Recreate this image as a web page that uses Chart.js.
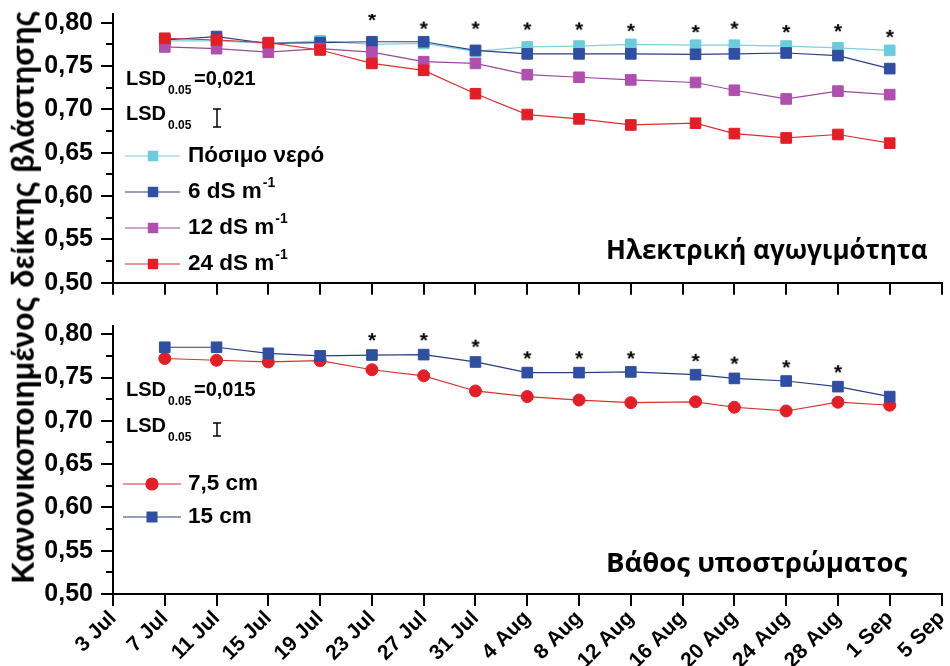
<!DOCTYPE html>
<html>
<head>
<meta charset="utf-8">
<script src="https://cdn.jsdelivr.net/npm/chart.js@4.4.1/dist/chart.umd.min.js"></script>
<style>
  html, body { margin: 0; padding: 0; background: #fff; }
  #wrap { position: relative; width: 950px; height: 666px; overflow: hidden; }
  #topChart { position: absolute; left: 0; top: 0; }
  #bottomChart { position: absolute; left: 0; top: 300px; }
  #ytitle {
    position: absolute; left: 23px; top: 297px;
    transform: translate(-50%, -50%) rotate(-90deg);
    font: bold 30.5px "Liberation Sans", Arial, sans-serif;
    line-height: 1; white-space: nowrap; color: #000;
  }
</style>
</head>
<body>
<div id="wrap">
  <canvas id="topChart" width="950" height="300"></canvas>
  <canvas id="bottomChart" width="950" height="366"></canvas>
  <div id="ytitle">Κανονικοποιημένος δείκτης βλάστησης</div>
</div>
<script>
// ημερομηνίες μετρήσεων (μήνας-ημέρα) και ετικέτες άξονα x
const startDate = '07-03';
const sampleDates = ['07-07', '07-11', '07-15', '07-19', '07-23', '07-27', '07-31', '08-04',
  '08-08', '08-12', '08-17', '08-20', '08-24', '08-28', '09-01'];
const xTickLabels = ['3 Jul', '7 Jul', '11 Jul', '15 Jul', '19 Jul', '23 Jul', '27 Jul', '31 Jul',
  '4 Aug', '8 Aug', '12 Aug', '16 Aug', '20 Aug', '24 Aug', '28 Aug', '1 Sep', '5 Sep'];
const yMajorTicks = [0.50, 0.55, 0.60, 0.65, 0.70, 0.75, 0.80];
const yMinorTicks = [0.525, 0.575, 0.625, 0.675, 0.725, 0.775];

// Ηλεκτρική αγωγιμότητα
const potable = [0.779, 0.779, 0.776, 0.779, 0.775, 0.776, 0.767, 0.772, 0.773, 0.775, 0.774, 0.774, 0.773, 0.771, 0.768];
const ec6 = [0.780, 0.784, 0.776, 0.777, 0.778, 0.778, 0.768, 0.764, 0.764, 0.764, 0.7635, 0.764, 0.765, 0.762, 0.747];
const ec12 = [0.772, 0.770, 0.766, 0.770, 0.766, 0.755, 0.753, 0.740, 0.737, 0.734, 0.731, 0.722, 0.712, 0.721, 0.717];
const ec24 = [0.782, 0.780, 0.777, 0.7685, 0.753, 0.745, 0.718, 0.694, 0.689, 0.682, 0.684, 0.672, 0.667, 0.671, 0.661];
const ecStars = [null, null, null, null, 0.809, 0.799, 0.799, 0.798, 0.798, 0.7965, 0.795, 0.799, 0.795, 0.796, 0.7895];
const ecLsd = 0.021;

// Βάθος υποστρώματος
const depth75 = [0.772, 0.770, 0.768, 0.7695, 0.759, 0.752, 0.7345, 0.728, 0.724, 0.721, 0.722, 0.7157, 0.7114, 0.7215, 0.718];
const depth15 = [0.785, 0.785, 0.778, 0.775, 0.776, 0.7765, 0.768, 0.7557, 0.7557, 0.7565, 0.7533, 0.749, 0.746, 0.7395, 0.728];
const depthStars = [null, null, null, null, 0.799, 0.799, 0.7915, 0.778, 0.778, 0.778, 0.775, 0.772, 0.7677, 0.762, null];
const depthLsd = 0.015;

const FONT = '"Liberation Sans", Arial, sans-serif';

function dayNo(md) {
  const [m, d] = md.split('-').map(Number);
  const [m0, d0] = startDate.split('-').map(Number);
  return (Date.UTC(2001, m - 1, d) - Date.UTC(2001, m0 - 1, d0)) / 86400000;
}
const sampleDays = sampleDates.map(dayNo);

function points(values) {
  return values.map((v, i) => v == null ? null : {x: sampleDays[i], y: v}).filter(p => p);
}

// αστερίσκος ως εικόνα σημείου
function starImage() {
  const c = document.createElement('canvas');
  c.width = 16; c.height = 16;
  const g = c.getContext('2d');
  g.font = 'bold 21px ' + FONT;
  g.textAlign = 'center';
  g.fillStyle = '#000';
  g.fillText('*', 8, 8 + 0.56 * 21);
  return c;
}
const star = starImage();

function series(label, values, fill, line, style, radius, order) {
  return {
    label: label, data: points(values), borderColor: line, borderWidth: 1.2,
    pointStyle: style, pointRadius: radius, pointBackgroundColor: fill,
    pointBorderColor: fill, pointBorderWidth: 1, order: order, tension: 0
  };
}
function starSet(values) {
  return {label: '*', data: points(values), showLine: false, pointStyle: star, order: -1};
}

function decoPlugin(cfg) {
  return {
    id: 'deco',
    afterDraw(chart) {
      const ctx = chart.ctx, ys = chart.scales.y, area = chart.chartArea;
      ctx.save();
      ctx.strokeStyle = '#000';
      ctx.fillStyle = '#000';
      // μικρές υποδιαιρέσεις
      ctx.lineWidth = 2;
      yMinorTicks.forEach(v => {
        const py = Math.round(ys.getPixelForValue(v));
        ctx.beginPath(); ctx.moveTo(area.left - 7, py); ctx.lineTo(area.left, py); ctx.stroke();
      });
      // LSD
      ctx.textBaseline = 'alphabetic';
      ctx.textAlign = 'left';
      cfg.lsdLines.forEach((base, k) => {
        ctx.font = 'bold 20px ' + FONT;
        ctx.fillText('LSD', 126, base);
        ctx.font = 'bold 12px ' + FONT;
        ctx.fillText('0.05', 168, base + 9);
        if (k === 0) {
          ctx.font = 'bold 20px ' + FONT;
          ctx.fillText('=' + cfg.lsd.toFixed(3).replace('.', ','), 194, base);
        }
      });
      const yc = 0.69;
      const t = ys.getPixelForValue(yc + cfg.lsd / 2), b = ys.getPixelForValue(yc - cfg.lsd / 2);
      ctx.lineWidth = 1.5;
      ctx.beginPath();
      ctx.moveTo(217, t); ctx.lineTo(217, b);
      ctx.moveTo(213, t); ctx.lineTo(221, t);
      ctx.moveTo(213, b); ctx.lineTo(221, b);
      ctx.stroke();
      // υπόμνημα
      cfg.legend.forEach(row => {
        const ds = chart.data.datasets[row.ds];
        ctx.strokeStyle = ds.borderColor;
        ctx.lineWidth = 1.2;
        ctx.beginPath(); ctx.moveTo(cfg.legX0, row.y); ctx.lineTo(cfg.legX1, row.y); ctx.stroke();
        ctx.fillStyle = ds.pointBackgroundColor;
        ctx.strokeStyle = ds.pointBorderColor;
        Chart.helpers.drawPoint(ctx, {pointStyle: ds.pointStyle, radius: row.r, borderWidth: 1}, cfg.legMark, row.y);
        ctx.fillStyle = '#000';
        ctx.textBaseline = 'middle';
        ctx.font = 'bold 22.5px ' + FONT;
        ctx.fillText(row.text, 188, row.y);
        if (row.sup) {
          const w = ctx.measureText(row.text).width;
          ctx.font = 'bold 14px ' + FONT;
          ctx.fillText(row.sup, 188 + w + 1, row.y - 9);
        }
      });
      // τίτλος πλαισίου
      ctx.textBaseline = 'alphabetic';
      ctx.font = 'bold ' + cfg.titleSize + 'px "Open Sans", "Noto Sans", sans-serif';
      ctx.fillText(cfg.title, 606, cfg.titleBase);
      ctx.restore();
    }
  };
}

function makeChart(id, datasets, padTop, xHeight, showLabels, cfg) {
  return new Chart(document.getElementById(id), {
    type: 'line',
    data: {datasets: datasets},
    options: {
      responsive: false,
      animation: false,
      layout: {padding: {top: padTop, right: 7, left: 0, bottom: 0}},
      plugins: {legend: {display: false}, tooltip: {enabled: false}},
      scales: {
        x: {
          type: 'linear', min: 0, max: 64,
          afterBuildTicks: s => { s.ticks = xTickLabels.map((_, i) => ({value: i * 4})); },
          afterFit: s => { s.height = xHeight; s.paddingLeft = 0; s.paddingRight = 0; },
          grid: {display: true, drawOnChartArea: false, drawTicks: true, tickLength: 12, color: '#000', lineWidth: 2},
          border: {display: true, color: '#000', width: 2},
          ticks: {
            autoSkip: false, minRotation: 45, maxRotation: 45, padding: 0, color: '#000',
            font: {family: FONT, size: 21, weight: 'bold'},
            callback: (v, i) => showLabels ? xTickLabels[i] : ''
          }
        },
        y: {
          min: 0.5, max: 0.81,
          afterBuildTicks: s => { s.ticks = yMajorTicks.map(v => ({value: v})); },
          afterFit: s => { s.width = 113; s.paddingTop = 0; s.paddingBottom = 0; },
          grid: {display: true, drawOnChartArea: false, drawTicks: true, tickLength: 12, color: '#000', lineWidth: 2},
          border: {display: true, color: '#000', width: 2},
          ticks: {
            padding: 8, color: '#000',
            font: {family: FONT, size: 25, weight: 'bold'},
            callback: v => v.toFixed(2).replace('.', ',')
          }
        }
      }
    },
    plugins: [decoPlugin(cfg)]
  });
}

makeChart('topChart', [
  series('Πόσιμο νερό', potable, '#6ccbdc', '#7fd0e0', 'rect', 7.5, 4),
  series('6 dS m-1', ec6, '#2f4fa2', '#2a3f80', 'rect', 7.5, 3),
  series('12 dS m-1', ec12, '#b04fb0', '#9a4a9a', 'rect', 7.5, 2),
  series('24 dS m-1', ec24, '#e41e26', '#d93030', 'rect', 7.5, 1),
  starSet(ecStars)
], 14, 17.3, false, {
  lsd: ecLsd, lsdLines: [85, 120],
  legX0: 125, legX1: 180, legMark: 153,
  legend: [
    {ds: 0, y: 156, r: 6.5, text: 'Πόσιμο νερό'},
    {ds: 1, y: 192, r: 6.5, text: '6 dS m', sup: '-1'},
    {ds: 2, y: 228, r: 6.5, text: '12 dS m', sup: '-1'},
    {ds: 3, y: 264, r: 6.5, text: '24 dS m', sup: '-1'}
  ],
  title: 'Ηλεκτρική αγωγιμότητα', titleBase: 259, titleSize: 26
});

makeChart('bottomChart', [
  series('7,5 cm', depth75, '#e41e26', '#d93030', 'circle', 6, 2),
  series('15 cm', depth15, '#2f4fa2', '#2a3f80', 'rect', 7.5, 1),
  starSet(depthStars)
], 25.6, 72, true, {
  lsd: depthLsd, lsdLines: [96, 131.5],
  legX0: 123, legX1: 181, legMark: 152,
  legend: [
    {ds: 0, y: 184, r: 6, text: '7,5 cm'},
    {ds: 1, y: 217, r: 7, text: '15 cm'}
  ],
  title: 'Βάθος υποστρώματος', titleBase: 272, titleSize: 27.5
});
</script>
</body>
</html>
